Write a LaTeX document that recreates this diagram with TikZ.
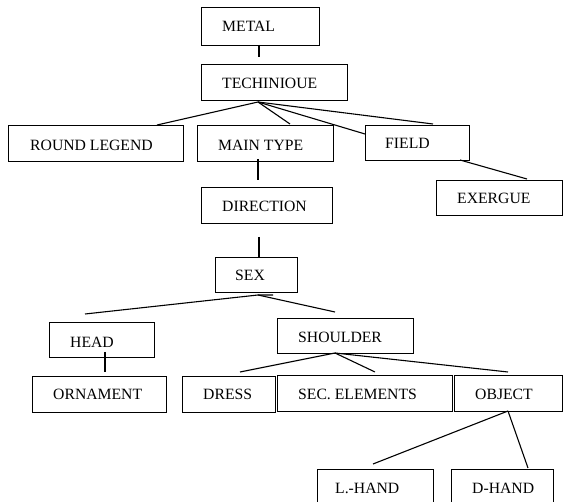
\documentclass[tikz,border=0pt]{standalone}
\usepackage{fontspec}
\setmainfont{Liberation Serif}
\begin{document}
\begin{tikzpicture}[x=1pt,y=-1pt,
  box/.style={draw,line width=1.35pt,inner sep=0pt,anchor=north west},
  txt/.style={anchor=base west,inner sep=0pt,font=\fontsize{15.7}{16}\selectfont},
  con/.style={line width=1.1pt}]
\useasboundingbox (0,0) rectangle (563,502);
% boxes
\node[box,minimum width=118pt,minimum height=38pt] (metal) at (201,7) {};
\node[box,minimum width=146pt,minimum height=36pt] (tech) at (201,64) {};
\node[box,minimum width=175pt,minimum height=36pt] (round) at (8,125) {};
\node[box,minimum width=136pt,minimum height=36pt] (main) at (197,125) {};
\node[box,minimum width=104pt,minimum height=35pt] (field) at (365,125) {};
\node[box,minimum width=126pt,minimum height=35pt] (exer) at (436,180) {};
\node[box,minimum width=131pt,minimum height=36pt] (dir) at (201,187) {};
\node[box,minimum width=82pt,minimum height=35pt] (sex) at (215,257) {};
\node[box,minimum width=105pt,minimum height=35pt] (head) at (49,322) {};
\node[box,minimum width=136pt,minimum height=35pt] (shoulder) at (277,318) {};
\node[box,minimum width=134pt,minimum height=36pt] (orn) at (32,376) {};
\node[box,minimum width=93pt,minimum height=36pt] (dress) at (182,376) {};
\node[box,minimum width=175pt,minimum height=36pt] (sec) at (277,375) {};
\node[box,minimum width=108pt,minimum height=36pt] (object) at (454,375) {};
\node[box,minimum width=116pt,minimum height=40pt] (lhand) at (317,469) {};
\node[box,minimum width=102pt,minimum height=40pt] (dhand) at (451,469) {};
% texts
\node[txt] (metalt) at (222,32) {METAL};
\node[txt] (techt) at (222,89) {TECHINIOUE};
\node[txt] (roundt) at (30,151) {ROUND LEGEND};
\node[txt] (maint) at (218,151) {MAIN TYPE};
\node[txt] (fieldt) at (385,149) {FIELD};
\node[txt] (exert) at (457,204) {EXERGUE};
\node[txt] (dirt) at (222,212) {DIRECTION};
\node[txt] (sext) at (235,281) {SEX};
\node[txt] (headt) at (70,348) {HEAD};
\node[txt] (shouldert) at (298,343) {SHOULDER};
\node[txt] (ornt) at (53,400) {ORNAMENT};
\node[txt] (dresst) at (203,400) {DRESS};
\node[txt] (sect) at (298,400) {SEC. ELEMENTS};
\node[txt] (objectt) at (475,400) {OBJECT};
\node[txt] (lhandt) at (335,494) {L.-HAND};
\node[txt] (dhandt) at (472,494) {D-HAND};
% connector points
\coordinate (m1) at (259,45);  \coordinate (m2) at (259,57);
\coordinate (t0) at (258,102);
\coordinate (t1) at (157,125); \coordinate (t2) at (290,124);
\coordinate (t3) at (365,134); \coordinate (t4) at (433,124);
\coordinate (f1) at (460,160); \coordinate (f2) at (527,179);
\coordinate (a1) at (258,159); \coordinate (a2) at (258,180);
\coordinate (d1) at (259,237); \coordinate (d2) at (259,257);
\coordinate (s0) at (258,295); \coordinate (s0b) at (273,295);
\coordinate (s1) at (85,314);  \coordinate (s2) at (335,312);
\coordinate (h1) at (105,352); \coordinate (h2) at (105,372);
\coordinate (sh0) at (335,353);
\coordinate (sh1) at (240,372); \coordinate (sh2) at (375,372); \coordinate (sh3) at (508,372);
\coordinate (o0) at (508,411);
\coordinate (o1) at (373,464); \coordinate (o2) at (528,468);
% connectors
\draw[con] (m1) -- (m2);
\draw[con] (t0) -- (t1);
\draw[con] (t0) -- (t2);
\draw[con] (t0) -- (t3);
\draw[con] (t0) -- (t4);
\draw[con] (f1) -- (f2);
\draw[con] (a1) -- (a2);
\draw[con] (d1) -- (d2);
\draw[con] (s0b) -- (s0) -- (s1);
\draw[con] (s0) -- (s2);
\draw[con] (h1) -- (h2);
\draw[con] (sh0) -- (sh1);
\draw[con] (sh0) -- (sh2);
\draw[con] (sh0) -- (sh3);
\draw[con] (o0) -- (o1);
\draw[con] (o0) -- (o2);
\end{tikzpicture}
\end{document}
